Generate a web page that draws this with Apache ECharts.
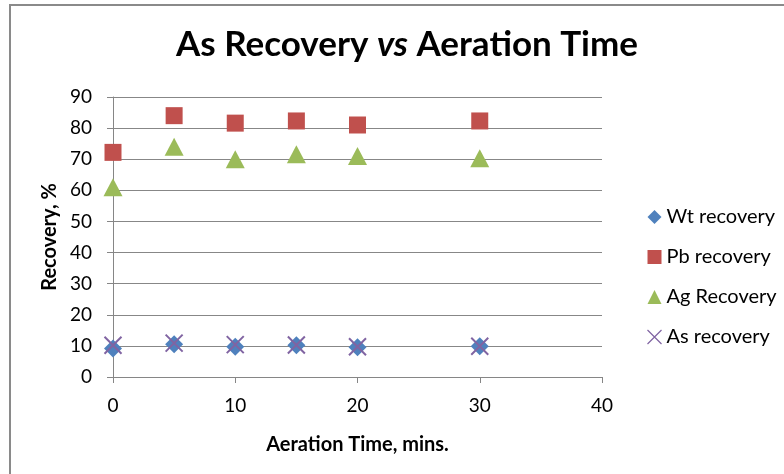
<!DOCTYPE html>
<html>
<head>
<meta charset="utf-8">
<script src="https://cdn.jsdelivr.net/npm/echarts@6/dist/echarts.min.js"></script>
<style>
  html, body { margin: 0; padding: 0; background: #fff; }
  #chart { width: 784px; height: 474px; }
</style>
</head>
<body>
<div id="chart"></div>
<script>
// Aeration time (minutes) and recoveries (%) per species
const aerationTime = [0, 5, 10, 15, 20, 30];
const wtRecovery = [9.2, 10.5, 9.7, 10.2, 9.6, 9.9];
const pbRecovery = [72.2, 84.0, 81.6, 82.3, 81.0, 82.3];
const agRecovery = [61.0, 74.0, 70.0, 71.6, 71.0, 70.3];
const asRecovery = [10.2, 10.9, 10.4, 10.3, 9.7, 9.9];
const xTicks = [0, 10, 20, 30, 40];
const yTicks = [0, 10, 20, 30, 40, 50, 60, 70, 80, 90];

const FONT = 'Lato, "Open Sans", sans-serif';
const CROSS = 'path://M0,0L10,10M10,0L0,10';

function pairs(vals) {
  return aerationTime.map((t, i) => [t, vals[i]]);
}

const chart = echarts.init(document.getElementById('chart'), null, { renderer: 'canvas' });

chart.setOption({
  backgroundColor: '#ffffff',
  animation: false,
  textStyle: { fontFamily: FONT },
  graphic: [{
    type: 'rect',
    shape: { x: 10, y: 5, width: 800, height: 500 },
    style: { fill: 'none', stroke: '#8a8a8a', lineWidth: 2 },
    silent: true
  }],
  title: {
    text: 'As Recovery {i|vs} Aeration Time',
    left: 402,
    textAlign: 'center',
    top: 22,
    textStyle: {
      fontFamily: FONT,
      fontSize: 35,
      fontWeight: 'bold',
      color: '#000',
      rich: {
        i: { fontFamily: FONT, fontSize: 35, fontWeight: 'bold', fontStyle: 'italic', color: '#000' }
      }
    }
  },
  grid: { left: 113, right: 182, top: 97, bottom: 97 },
  xAxis: {
    type: 'value',
    min: xTicks[0],
    max: xTicks[xTicks.length - 1],
    interval: 10,
    name: 'Aeration Time, mins.',
    nameLocation: 'middle',
    nameGap: 58,
    nameTextStyle: { fontFamily: FONT, fontSize: 20, fontWeight: 'bold', color: '#000' },
    axisLine: { lineStyle: { color: '#868686', width: 1 } },
    axisTick: { show: true, length: 6, lineStyle: { color: '#868686' } },
    axisLabel: { fontFamily: FONT, fontSize: 19, color: '#000', margin: 19 },
    splitLine: { show: false }
  },
  yAxis: {
    type: 'value',
    min: yTicks[0],
    max: yTicks[yTicks.length - 1],
    interval: 10,
    name: 'Recovery, %',
    nameLocation: 'middle',
    nameGap: 52,
    nameRotate: 90,
    nameTextStyle: { fontFamily: FONT, fontSize: 20, fontWeight: 'bold', color: '#000' },
    axisLine: { show: true, lineStyle: { color: '#868686', width: 1 } },
    axisTick: { show: true, length: 6, lineStyle: { color: '#868686' } },
    axisLabel: { fontFamily: FONT, fontSize: 19, color: '#000', margin: 21 },
    splitLine: { show: true, lineStyle: { color: '#878787', width: 1 } }
  },
  legend: {
    orient: 'vertical',
    left: 640,
    top: 201,
    itemWidth: 14,
    itemHeight: 14,
    itemGap: 18,
    textStyle: { fontFamily: FONT, fontSize: 20, color: '#000', lineHeight: 22 },
    data: [
      { name: 'Wt recovery', icon: 'diamond' },
      { name: 'Pb recovery', icon: 'rect' },
      { name: 'Ag Recovery', icon: 'triangle' },
      { name: 'As recovery', icon: CROSS, itemStyle: { color: 'none', borderColor: '#8064A2', borderWidth: 1.2 } }
    ]
  },
  series: [
    {
      name: 'Wt recovery', type: 'scatter', data: pairs(wtRecovery),
      symbol: 'diamond', symbolSize: 18,
      itemStyle: { color: '#4F81BD', opacity: 1 }
    },
    {
      name: 'Pb recovery', type: 'scatter', data: pairs(pbRecovery),
      symbol: 'rect', symbolSize: 17,
      itemStyle: { color: '#C0504D', opacity: 1 }
    },
    {
      name: 'Ag Recovery', type: 'scatter', data: pairs(agRecovery),
      symbol: 'triangle', symbolSize: [19, 18],
      itemStyle: { color: '#9BBB59', opacity: 1 }
    },
    {
      name: 'As recovery', type: 'scatter', data: pairs(asRecovery),
      symbol: CROSS, symbolSize: 17,
      itemStyle: { color: 'none', borderColor: '#8064A2', borderWidth: 2, opacity: 1 }
    }
  ]
});
</script>
</body>
</html>
